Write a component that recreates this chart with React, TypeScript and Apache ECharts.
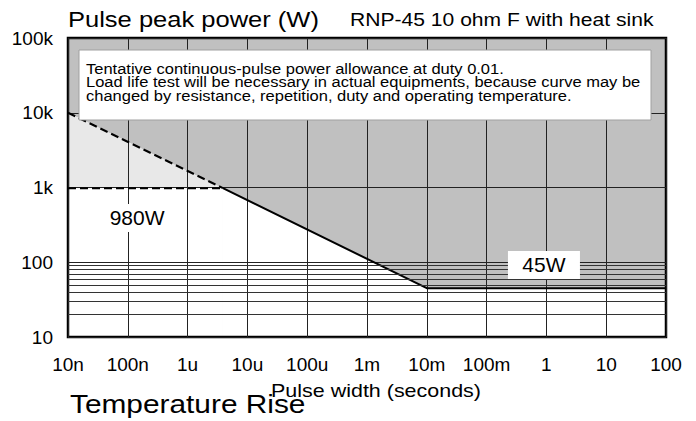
import React, { useEffect, useRef } from "react";
import * as echarts from "echarts";

// ---- data ----
const xTickLabels = ["10n", "100n", "1u", "10u", "100u", "1m", "10m", "100m", "1", "10", "100"];
const xMinExp = -8;
const yTickLabels = ["10", "100", "1k", "10k", "100k"];
const yMinExp = 1;

const limitCurveX = [1e-8, 1e-2, 100];
const limitCurveY = [1e4, 45, 45];
const dashedCurveX = [1e-8, 3.9e-6];
const dashedCurveY = [1e4, 980];
const solidCurveX = [3.9e-6, 1e-2, 100];
const solidCurveY = [980, 45, 45];
const level980X = [1e-8, 3.9e-6];
const level980Y = [980, 980];
const minorGridY = [20, 30, 40, 50, 60, 70, 80, 90];

const annotationTexts = ["980W", "45W"];
const annotationX = [1.43e-7, 0.91];
const annotationY = [391, 92];

const noteLines = [
  "Tentative continuous-pulse power allowance at duty 0.01.",
  "Load life test will be necessary in actual equipments, because curve may be",
  "changed by resistance, repetition, duty and operating temperature.",
];

const zip = (xs: number[], ys: number[]) => xs.map((x, i) => [x, ys[i]]);

const FONT = "Liberation Sans, Arial, sans-serif";

export default function App() {
  const ref = useRef<HTMLDivElement>(null);
  useEffect(() => {
    if (!ref.current) return;
    const chart = echarts.init(ref.current, null, { renderer: "svg" });
    const option: any = {
      animation: false,
      backgroundColor: "#ffffff",
      grid: {
        left: 68,
        top: 38,
        width: 598,
        height: 299,
        show: true,
        borderColor: "#000",
        borderWidth: 2.5,
        backgroundColor: "transparent",
      },
      xAxis: {
        type: "log",
        logBase: 10,
        min: 1e-8,
        max: 100,
        interval: 1,
        axisLine: { show: false },
        axisTick: { show: false },
        splitLine: { show: true, lineStyle: { color: "#222", width: 1 } },
        axisLabel: {
          margin: 18,
          fontSize: 19,
          fontFamily: FONT,
          color: "#000",
          formatter: (v: number) => xTickLabels[Math.round(Math.log10(v)) - xMinExp] ?? "",
        },
      },
      yAxis: {
        type: "log",
        logBase: 10,
        min: 10,
        max: 1e5,
        interval: 1,
        axisLine: { show: false },
        axisTick: { show: false },
        splitLine: { show: true, lineStyle: { color: "#222", width: 1 } },
        axisLabel: {
          margin: 15,
          fontSize: 19,
          fontFamily: FONT,
          color: "#000",
          formatter: (v: number) => yTickLabels[Math.round(Math.log10(v)) - yMinExp] ?? "",
        },
      },
      series: [
        {
          type: "line",
          z: -1,
          data: zip(limitCurveX, limitCurveY),
          symbol: "none",
          lineStyle: { width: 0 },
          areaStyle: { origin: "end", color: "#c0c0c0", opacity: 1 },
          silent: true,
        },
        {
          type: "line",
          z: -1,
          data: zip(dashedCurveX, dashedCurveY),
          symbol: "none",
          lineStyle: { width: 0 },
          areaStyle: { origin: "start", color: "#e8e8e8", opacity: 1 },
          silent: true,
        },
        {
          type: "line",
          z: -1,
          data: zip(level980X, level980Y),
          symbol: "none",
          lineStyle: { width: 0 },
          areaStyle: { origin: "start", color: "#ffffff", opacity: 1 },
          silent: true,
        },
        {
          type: "line",
          data: zip(solidCurveX, solidCurveY),
          symbol: "none",
          lineStyle: { color: "#000", width: 2 },
          silent: true,
          markLine: {
            silent: true,
            symbol: "none",
            label: { show: false },
            lineStyle: { color: "#333", width: 1, type: "solid" },
            data: minorGridY.map((v) => ({ yAxis: v })),
          },
        },
        {
          type: "line",
          data: zip(dashedCurveX, dashedCurveY),
          symbol: "none",
          lineStyle: { color: "#000", width: 2, type: [8, 4] },
          silent: true,
        },
        {
          type: "line",
          data: zip(level980X, level980Y),
          symbol: "none",
          lineStyle: { color: "#000", width: 2, type: [8, 4] },
          silent: true,
        },
        {
          type: "line",
          z: 5,
          data: [],
          symbol: "none",
          silent: true,
          markPoint: {
            silent: true,
            symbol: "rect",
            symbolSize: [72, 28],
            itemStyle: { color: "#fff" },
            label: {
              show: true,
              position: "inside",
              color: "#000",
              fontSize: 21,
              fontFamily: FONT,
              formatter: (p: any) => p.name,
            },
            data: annotationTexts.map((t, i) => ({
              name: t,
              coord: [annotationX[i], annotationY[i]],
            })),
          },
        },
      ],
      graphic: [
        {
          type: "rect",
          z: 100,
          shape: { x: 79, y: 50, width: 572, height: 70 },
          style: { fill: "#fff", stroke: "#a0a0a0", lineWidth: 1 },
        },
        {
          type: "text",
          z: 101,
          x: 86,
          y: 62,
          scaleX: 1.1,
          style: {
            text: noteLines.join("\n"),
            font: `15px ${FONT}`,
            lineHeight: 13.4,
            fill: "#000",
            verticalAlign: "top",
            align: "left",
          },
        },
        {
          type: "text",
          z: 101,
          x: 68,
          y: 19,
          scaleX: 1.16,
          style: { text: "Pulse peak power (W)", font: `22px ${FONT}`, fill: "#000", verticalAlign: "middle" },
        },
        {
          type: "text",
          z: 101,
          x: 350,
          y: 19,
          scaleX: 1.14,
          style: { text: "RNP-45 10 ohm F with heat sink", font: `18.5px ${FONT}`, fill: "#000", verticalAlign: "middle" },
        },
        {
          type: "text",
          z: 101,
          x: 376,
          y: 390,
          scaleX: 1.13,
          style: { text: "Pulse width (seconds)", font: `19px ${FONT}`, fill: "#000", verticalAlign: "middle", align: "center" },
        },
        {
          type: "text",
          z: 101,
          x: 70,
          y: 404,
          scaleX: 1.17,
          style: { text: "Temperature Rise", font: `25.5px ${FONT}`, fill: "#000", verticalAlign: "middle" },
        },
      ],
    };
    chart.setOption(option);
    return () => chart.dispose();
  }, []);
  return (
    <div
      ref={ref}
      style={{ position: "fixed", left: 0, top: 0, width: 696, height: 421, background: "#fff" }}
    />
  );
}
